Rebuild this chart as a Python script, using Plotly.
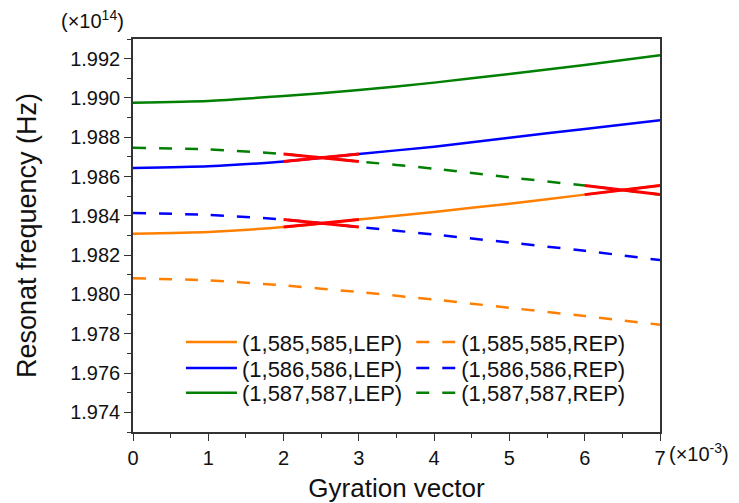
import plotly.graph_objects as go

# Data (x in units of 1e-3, y in units of 1e14 Hz)
x = [0, 1, 2, 3, 4, 5, 6, 7]
o_lep = [1.98309, 1.98318, 1.98343, 1.98381, 1.98420, 1.98462, 1.98508, 1.98554]
o_rep = [1.98082, 1.98072, 1.98046, 1.98012, 1.97974, 1.97932, 1.97890, 1.97846]
b_lep = [1.98644, 1.98652, 1.98677, 1.98715, 1.98752, 1.98798, 1.98842, 1.98886]
b_rep = [1.98415, 1.98405, 1.98381, 1.98343, 1.98305, 1.98264, 1.98222, 1.98175]
g_lep = [1.98976, 1.98985, 1.99010, 1.99040, 1.99078, 1.99122, 1.99168, 1.99217]
g_rep = [1.98746, 1.98738, 1.98715, 1.98677, 1.98640, 1.98596, 1.98554, 1.98508]

labels = ["(1,585,585,LEP)", "(1,585,585,REP)",
          "(1,586,586,LEP)", "(1,586,586,REP)",
          "(1,587,587,LEP)", "(1,587,587,REP)"]

ORANGE = "#FF8000"
BLUE = "#0000FF"
GREEN = "#008000"
RED = "#FF0000"
FONT = "Liberation Sans, Arial, sans-serif"
DASH = "13px,13px"

fig = go.Figure()

series = [
    (o_lep, ORANGE, "solid", labels[0], "legend"),
    (o_rep, ORANGE, DASH, labels[1], "legend2"),
    (b_lep, BLUE, "solid", labels[2], "legend3"),
    (b_rep, BLUE, DASH, labels[3], "legend4"),
    (g_lep, GREEN, "solid", labels[4], "legend5"),
    (g_rep, GREEN, DASH, labels[5], "legend6"),
]
for ys, col, dash, name, leg in series:
    fig.add_trace(go.Scatter(
        x=x, y=ys, mode="lines", name=name, legend=leg,
        line=dict(color=col, width=2.5, dash=dash, shape="spline", smoothing=0.6),
    ))

# red highlighted crossing segments
segments = [((2, 3), [b_lep, g_rep, o_lep, b_rep]), ((6, 7), [o_lep, g_rep])]
for (x0, x1), arrs in segments:
    for ys in arrs:
        xs = [xv for xv in x if x0 <= xv <= x1]
        yv = [yy for xv, yy in zip(x, ys) if x0 <= xv <= x1]
        fig.add_trace(go.Scatter(x=xs, y=yv, mode="lines", showlegend=False,
                                 line=dict(color=RED, width=3)))

axis_common = dict(
    showline=True, linecolor="#333333", linewidth=1.5, mirror=True,
    ticks="outside", ticklen=7, tickwidth=1.2, tickcolor="#333333",
    showgrid=False, zeroline=False, automargin=False,
    tickfont=dict(family=FONT, size=20, color="#111111"),
)

fig.update_xaxes(
    range=[0, 7], dtick=1, tick0=0,
    minor=dict(dtick=0.5, ticks="outside", ticklen=4, tickcolor="#333333"),
    title=dict(text="Gyration vector", font=dict(family=FONT, size=26, color="#111111"), standoff=16),
    **axis_common,
)
fig.update_yaxes(
    range=[1.973, 1.993], dtick=0.002, tick0=1.974, tickformat=".3f",
    minor=dict(dtick=0.001, ticks="outside", ticklen=4, tickcolor="#333333"),
    title=dict(text="Resonat frequency (Hz)", font=dict(family=FONT, size=27, color="#111111"), standoff=26),
    **axis_common,
)

leg_common = dict(
    font=dict(family=FONT, size=22, color="#111111"),
    bgcolor="rgba(0,0,0,0)", borderwidth=0, tracegroupgap=0,
    orientation="v", xanchor="left", yanchor="top",
)
col_x = [0.091, 0.528]
col_iw = [51, 40]
row_y = [0.282, 0.216, 0.153]
legends = {}
names = ["legend", "legend2", "legend3", "legend4", "legend5", "legend6"]
for i, nm in enumerate(names):
    legends[nm] = dict(x=col_x[i % 2], y=row_y[i // 2], itemwidth=col_iw[i % 2], **leg_common)

fig.update_layout(
    width=739, height=503,
    margin=dict(l=133, r=79, t=39, b=71),
    plot_bgcolor="white", paper_bgcolor="white",
    annotations=[
        dict(text="(×10<sup>14</sup>)", xref="paper", yref="paper", x=-0.141, y=1.05,
             xanchor="left", yanchor="middle", showarrow=False,
             font=dict(family=FONT, size=20, color="#111111")),
        dict(text="(×10<sup>-3</sup>)", xref="paper", yref="paper", x=1.013, y=-0.052,
             xanchor="left", yanchor="middle", showarrow=False,
             font=dict(family=FONT, size=20, color="#111111")),
    ],
    **legends,
)

fig.write_html("out.html", config={"displayModeBar": False},
               post_script="document.body.style.margin='0';document.body.style.padding='0';document.body.style.overflow='hidden';")
